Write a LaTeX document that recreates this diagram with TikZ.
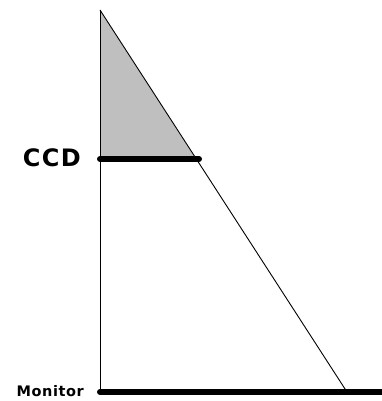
\documentclass[tikz,border=0pt]{standalone}
\usepackage{fontspec}
\setmainfont{DejaVu Sans}
\newfontfamily\labelfont[LetterSpace=6]{DejaVu Sans Bold}
\newfontfamily\smalllabelfont[LetterSpace=4]{DejaVu Sans Bold}
\usetikzlibrary{positioning}

\begin{document}
\begin{tikzpicture}[
  x=1pt,y=-1pt,
  thin line/.style={draw,line width=0.9pt},
  screen/.style={draw,line width=6pt,line cap=round},
  shade/.style={fill=black!25},
  lbl/.style={inner sep=0pt,anchor=east}
]
\useasboundingbox (0,0) rectangle (382,401);
\coordinate (apex) at (100,10);
\coordinate (ccdL) at (100,159);
\coordinate (ccdR) at (199,159);
\coordinate (ccdHit) at (196,159);
\coordinate (monL) at (100,392);
\coordinate (monR) at (385,392);
\coordinate (monHit) at (347,392);

\fill[shade] (apex) -- (ccdL) -- (ccdHit) -- cycle;
\draw[thin line] (apex) -- (monL);
\draw[thin line] (apex) -- (monHit);
\draw[screen] (ccdL) -- (ccdR);
\draw[screen] (monL) -- (monR);

\node[lbl,font=\labelfont\fontsize{24}{26}\selectfont] (ccd) at (81,158) {CCD};
\node[lbl,font=\smalllabelfont\fontsize{14.5}{16}\selectfont] (monitor) at (84,391) {Monitor};
\end{tikzpicture}
\end{document}
